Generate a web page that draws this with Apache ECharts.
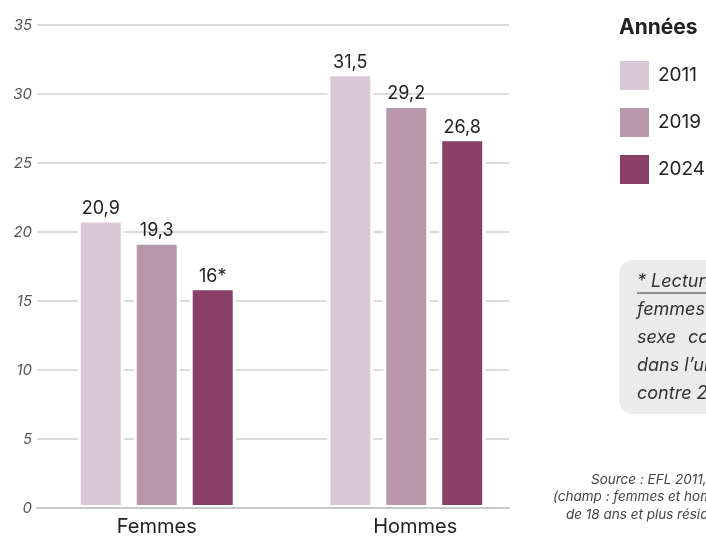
<!DOCTYPE html>
<html>
<head>
<meta charset="utf-8">
<script src="https://cdn.jsdelivr.net/npm/echarts@6/dist/echarts.min.js"></script>
<style>html,body{margin:0;padding:0;background:#fff;}#c{width:706px;height:537px;}</style>
</head>
<body>
<div id="c"></div>
<script>
var categories = ['Femmes', 'Hommes'];
var years = ['2011', '2019', '2024'];
var values2011 = [20.9, 31.5];
var values2019 = [19.3, 29.2];
var values2024 = [16, 26.8];
var labels2024 = ['16*', '26,8'];
var yTicks = [0, 5, 10, 15, 20, 25, 30, 35];
var colors = ['#d9c8d5', '#b897ab', '#8a3f66'];

var FONT = 'Inter';
function fr(v) { return String(v).replace('.', ','); }

var chart = echarts.init(document.getElementById('c'));
function mk(name, data, color, fmt) {
  return {
    name: name, type: 'bar', xAxisIndex: 0, yAxisIndex: 0,
    data: data, barWidth: 46, barGap: '21.7%',
    itemStyle: { color: color, borderColor: '#fff', borderWidth: 3 },
    label: { show: true, position: 'top', distance: 2, fontFamily: FONT, fontSize: 18, color: '#222',
      formatter: fmt },
    z: 2
  };
}
function noteText(x, y, t) {
  return { type: 'text', x: x, y: y, style: { text: t, textVerticalAlign: 'middle', fontFamily: FONT, fontSize: 18, fontStyle: 'italic', fill: '#333' } };
}
function srcText(x, y, t) {
  return { type: 'text', x: x, y: y, style: { text: t, textVerticalAlign: 'middle', fontFamily: FONT, fontSize: 13.5, fontStyle: 'italic', fill: '#444' } };
}
chart.setOption({
  animation: false,
  backgroundColor: '#fff',
  grid: [
    { left: 32, right: 175, top: 25, bottom: 29 },
    { left: 37, right: 197, top: 25, bottom: 29 }
  ],
  xAxis: [
    { type: 'category', gridIndex: 0, data: categories,
      axisLine: { show: false }, axisTick: { show: false },
      axisLabel: { margin: 9, fontFamily: FONT, fontSize: 20, color: '#222',
        formatter: function (v, i) { return i === 1 ? '{h|' + v + '}' : v; },
        rich: { h: { fontFamily: FONT, fontSize: 20, color: '#222', padding: [0, 0, 0, 18] } } } },
    { type: 'category', gridIndex: 1, data: categories, z: 5,
      axisLine: { show: true, lineStyle: { color: '#c8c8c8', width: 2 } },
      axisTick: { show: false }, axisLabel: { show: false } }
  ],
  yAxis: [
    { type: 'value', gridIndex: 0, min: 0, max: 35, interval: 5, show: false },
    { type: 'value', gridIndex: 1, min: yTicks[0], max: yTicks[yTicks.length - 1], interval: 5,
      axisLine: { show: false }, axisTick: { show: false },
      splitLine: { lineStyle: { color: '#cfcfcf', width: 1.5 } },
      axisLabel: { margin: 5, fontFamily: FONT, fontSize: 15, fontStyle: 'italic', color: '#555' } }
  ],
  legend: {
    orient: 'vertical', left: 613, top: 54, icon: 'rect',
    itemWidth: 31, itemHeight: 31, itemGap: 14,
    data: years,
    textStyle: { fontFamily: FONT, fontSize: 19, color: '#222', padding: [0, 0, 0, 3] }
  },
  series: [
    mk(years[0], values2011, colors[0], function (p) { return fr(p.value); }),
    mk(years[1], values2019, colors[1], function (p) { return fr(p.value); }),
    mk(years[2], values2024, colors[2], function (p) { return labels2024[p.dataIndex]; })
  ],
  graphic: [
    { type: 'text', left: 619, top: 17, style: { text: 'Années', fontFamily: FONT, fontSize: 21, fontWeight: 'bold', fill: '#222' } },
    { type: 'rect', shape: { x: 619, y: 260, width: 140, height: 154, r: 14 }, style: { fill: '#ebebeb' } },
    noteText(637, 282, '* Lecture : en 2024, 16 % des'),
    { type: 'line', shape: { x1: 637, y1: 293, x2: 706, y2: 293 }, style: { stroke: '#333', lineWidth: 1 } },
    noteText(637, 310, 'femmes déclarent une'),
    noteText(637, 338, 'sexe'),
    noteText(688, 338, 'conjoint'),
    noteText(637, 366, 'dans l’union actuelle'),
    noteText(637, 394, 'contre 20,9 % en 2011.'),
    srcText(591, 480, 'Source : EFL 2011, 2019 et 2024'),
    srcText(553, 497, '(champ : femmes et hommes'),
    srcText(566, 515, 'de 18 ans et plus résidant')
  ]
});
</script>
</body>
</html>
